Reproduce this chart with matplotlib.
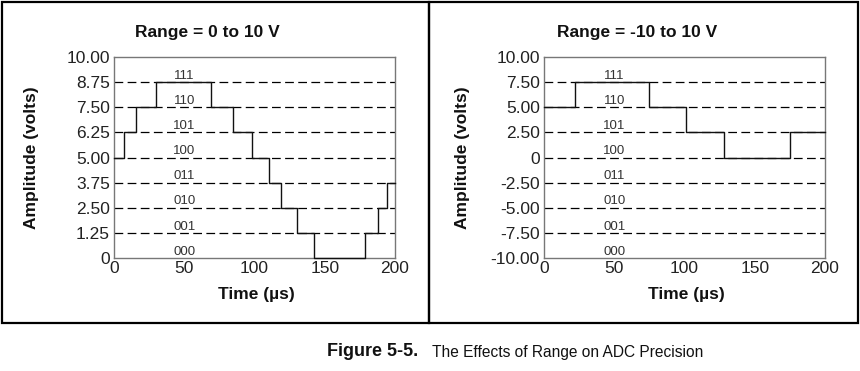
import matplotlib
matplotlib.use("Agg")
import matplotlib.pyplot as plt
from matplotlib.patches import Rectangle

# ---- data ----
codes = ["000", "001", "010", "011", "100", "101", "110", "111"]
x_ticks = [0, 50, 100, 150, 200]

left_title = "Range = 0 to 10 V"
left_t = [0, 7, 16, 30, 69, 85, 98, 110, 119, 130, 142, 179, 188, 194, 200]
left_v = [5.00, 6.25, 7.50, 8.75, 7.50, 6.25, 5.00, 3.75, 2.50, 1.25, 0.0, 1.25, 2.50, 3.75, 3.75]
left_yticks = [0, 1.25, 2.50, 3.75, 5.00, 6.25, 7.50, 8.75, 10.00]
left_ylabels = ["0", "1.25", "2.50", "3.75", "5.00", "6.25", "7.50", "8.75", "10.00"]

right_title = "Range = -10 to 10 V"
right_t = [0, 22, 75, 101, 128, 175, 200]
right_v = [5.00, 7.50, 5.00, 2.50, 0.0, 2.50, 2.50]
right_yticks = [-10.0, -7.5, -5.0, -2.5, 0, 2.5, 5.0, 7.5, 10.0]
right_ylabels = ["-10.00", "-7.50", "-5.00", "-2.50", "0", "2.50", "5.00", "7.50", "10.00"]

caption_bold = "Figure 5-5."
caption_text = "The Effects of Range on ADC Precision"

W, H = 860, 371
plt.rcParams['font.family'] = ['Liberation Sans', 'DejaVu Sans']
fig = plt.figure(figsize=(W / 100, H / 100), dpi=100)
fig.patch.set_facecolor("white")


def px(x, y):
    return x / W, 1 - y / H


# outer boxes
for x0, x1 in [(2, 429), (429, 858)]:
    fig.patches.append(Rectangle((x0 / W, 1 - 323 / H), (x1 - x0) / W, (323 - 2) / H,
                                 transform=fig.transFigure, fill=False,
                                 edgecolor="black", linewidth=1.6))

panels = [
    (0, left_title, left_t, left_v, left_yticks, left_ylabels),
    (430, right_title, right_t, right_v, right_yticks, right_ylabels),
]

for off, title, t, v, yt, yl in panels:
    ax_l, ax_r, ax_t, ax_b = off + 114, off + 395, 57, 258
    ax = fig.add_axes([ax_l / W, 1 - ax_b / H, (ax_r - ax_l) / W, (ax_b - ax_t) / H])
    ymin, ymax = yt[0], yt[-1]
    ax.set_xlim(0, 200)
    ax.set_ylim(ymin, ymax)
    step = yt[1] - yt[0]
    for lev in yt[1:-1]:
        ax.axhline(lev, color="black", linewidth=0.9, dashes=(7, 3.5), zorder=1)
    for i, c in enumerate(codes):
        ax.text(50, yt[i] + step * 0.25, c, ha="center", va="center",
                fontsize=9.5, color="#333333", zorder=2)
    ax.step(t, v, where="post", color="#111111", linewidth=1.0, clip_on=False, zorder=3)
    ax.set_xticks(x_ticks)
    ax.set_xticklabels([str(x) for x in x_ticks])
    ax.set_yticks(yt)
    ax.set_yticklabels(yl)
    ax.tick_params(length=0, labelsize=12.5, colors="#222222", pad=3)
    ax.tick_params(axis="x", pad=2.5)
    for s in ax.spines.values():
        s.set_color("#777777")
        s.set_linewidth(1.0)
    fig.text(*px(off + 207, 32), title, ha="center", va="center",
             fontsize=12.5, fontweight="bold", color="#111111")
    fig.text(*px(off + 32, 157.5), "Amplitude (volts)", ha="center", va="center",
             rotation=90, fontsize=12.5, fontweight="bold", color="#111111")
    fig.text(*px(off + 256, 295), "Time (µs)", ha="center", va="center",
             fontsize=12.5, fontweight="bold", color="#111111")

fig.text(*px(327, 352), caption_bold, ha="left", va="center",
         fontsize=13, fontweight="bold", color="#111111")
fig.text(*px(432, 352), caption_text, ha="left", va="center",
         fontsize=11.2, color="#111111")

fig.savefig("out.png", dpi=100, facecolor="white")
